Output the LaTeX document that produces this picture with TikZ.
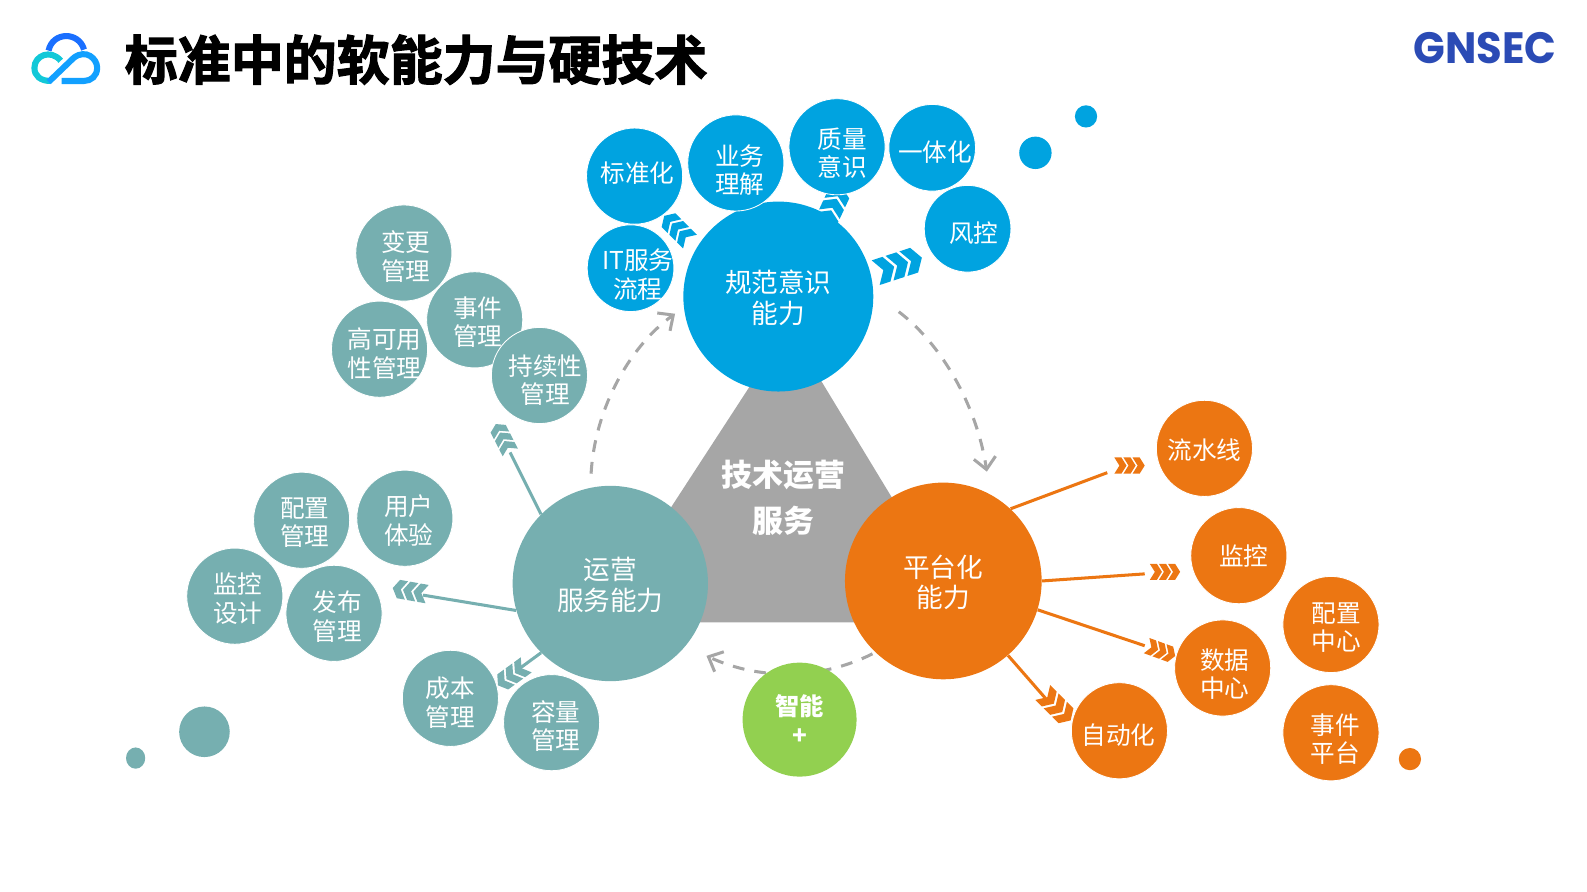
\documentclass[tikz,border=0pt]{standalone}
\usepackage{fontspec}
\setmainfont{Noto Sans CJK SC}
\newfontfamily\titlefont[FakeBold=2.2]{Noto Sans CJK SC Bold}
\newfontfamily\logofont{Poppins}
\usepackage{tikz}
\usetikzlibrary{arrows.meta,positioning,calc}
\definecolor{bluec}{HTML}{00A3E0}
\definecolor{tealc}{HTML}{76AFB0}
\definecolor{orangec}{HTML}{EC7612}
\definecolor{greenc}{HTML}{92D050}
\definecolor{grayc}{HTML}{A6A6A6}
\definecolor{logoc}{HTML}{2B4BB5}
\definecolor{cloudtop}{HTML}{1A6FFF}
\definecolor{cloudleft}{HTML}{12C8D8}
\definecolor{cloudright}{HTML}{12A0FF}
\tikzset{
	bub/.style={circle, draw=white, line width=0.5pt, inner sep=0pt, minimum size=57pt},
	bubsmall/.style={bub, minimum size=51.4pt},
	hub/.style={circle, inner sep=0pt},
	hubtext/.style={text=white, align=center, inner sep=0pt, yshift=-0.8pt,
		font=\fontsize{15.8}{18}\selectfont},
	bubtext/.style={text=white, align=center, inner sep=0pt, yshift=-0.2pt,
		font=\fontsize{14.6}{16.8}\selectfont},
	spoke/.style={line width=1.8pt},
	cycle line/.style={grayc, line width=1.8pt, dash pattern=on 7pt off 6pt,
		-{Straight Barb[length=7pt,width=13pt]}},
	chevrons/.pic={
		\foreach \i in {0,1,2}
			\fill[pic actions, shift={(\i*9-15,0)}] (0,-8) -- (7,-8) -- (12,0) -- (7,8) -- (0,8) -- (5,0) -- cycle;
	}
}
\begin{document}
\begin{tikzpicture}[x=0.6pt,y=-0.6pt]
	\useasboundingbox (0,0) rectangle (1568,881);

	% Logo
	\draw[cloudtop, line width=3.6pt] (48,50) .. controls (52,31) and (78,31) .. (83,49);
	\draw[cloudleft, line width=3.6pt] (60,60) .. controls (50,48) and (34,55) .. (34,67) .. controls (34,75) and (40,80) .. (50,80);
	\draw[cloudright, line width=3.6pt] (48,81) -- (73,57) .. controls (85,48) and (96,58) .. (96,67) .. controls (96,75) and (90,80) .. (83,80) -- (61,80);

	% Title
	\node[anchor=west, inner sep=0pt, font=\fontsize{31.4}{34}\titlefont] (title) at (123,59) {标准中的软能力与硬技术};
	\node[anchor=east, inner sep=0pt, text=logoc, font=\fontsize{26}{30}\logofont\bfseries] (gnsec) at (1538,47) {\scalebox{0.95}[1]{GNSEC}};

	% Centre triangle
	\fill[grayc] (779,323) -- (956,615) -- (589,615) -- cycle;

	% Cycle arrows
	\coordinate (opsout) at (584,468);
	\coordinate (normin) at (667,310);
	\coordinate (normout) at (888,308);
	\coordinate (platin) at (975,466);
	\coordinate (platout) at (862,646);
	\coordinate (opsin) at (698,648);
	\draw[cycle line] (opsout) .. controls (588,400) and (625,340) .. (normin);
	\draw[cycle line] (normout) .. controls (930,340) and (965,400) .. (platin);
	\draw[cycle line] (platout) .. controls (810,672) and (750,672) .. (opsin);

	% Blue chevrons sit under the circles
	\pic[fill=bluec, rotate=135, scale=1.2] at (669,226) {chevrons};
	\pic[fill=bluec, rotate=65, scale=1.4] at (823,204) {chevrons};
	\pic[fill=bluec, rotate=18, scale=1.6] at (888,262) {chevrons};

	% Hubs
	\node[hub, fill=bluec, minimum size=112.6pt, label={[hubtext]center:规范意识\\能力}] (normhub) at (769,293) {};
	\node[hub, fill=tealc, minimum size=115.8pt, label={[hubtext]center:运营\\服务能力}] (opshub) at (603,576.5) {};
	\node[hub, fill=orangec, minimum size=116.6pt, label={[hubtext]center:平台化\\能力}] (plathub) at (932,574) {};
	\node[hub, fill=greenc, minimum size=67.6pt, text=white, align=center, font=\fontsize{14.4}{17.5}\selectfont\bfseries] (aihub) at (790,711) {智能\\+};
	\node[text=white, align=center, inner sep=0pt, font=\fontsize{18.3}{27}\selectfont\bfseries] (core) at (774,492) {技术运营\\服务};

	% Blue group
	\foreach \nm/\x/\y/\dx/\dy/\txt in {
		std/627/174/3/-3/标准化,
		biz/727/161/4/7/业务\\理解,
		qual/827/145/5/6/质量\\意识}
		\node[bub, fill=bluec, label={[bubtext, shift={(\dx,\dy)}]center:\txt}] (\nm) at (\x,\y) {};
	\foreach \nm/\x/\y/\dx/\dy/\txt in {
		unify/921/146/3/4/一体化,
		risk/956/226/6/4/风控,
		itsm/623/265/7/6/IT服务\\流程}
		\node[bubsmall, fill=bluec, label={[bubtext, shift={(\dx,\dy)}]center:\txt}] (\nm) at (\x,\y) {};
	\fill[bluec] (1023,151) circle (16);
	\fill[bluec] (1073,115) circle (11);

	% Teal group
	\foreach \nm/\x/\y/\dx/\dy/\txt in {
		change/399/250/2/3/变更\\管理,
		avail/375/345/5/4/高可用\\性管理,
		incident/469/316/3/2/事件\\管理,
		contin/533/371/6/4/持续性\\管理,
		config/298/514/3/2/配置\\管理,
		userexp/400/512/4/2/用户\\体验,
		mondes/232/589/3/2/监控\\设计,
		release/330/606/3/3/发布\\管理,
		cost/445/690/0/4/成本\\管理,
		capac/545/714/4/3/容量\\管理}
		\node[bub, fill=tealc, label={[bubtext, shift={(\dx,\dy)}]center:\txt}] (\nm) at (\x,\y) {};
	\fill[tealc] (202,723) circle (25);
	\fill[tealc] (134,749) ellipse (9.5 and 10.5);

	% Orange group
	\foreach \nm/\x/\y/\dx/\dy/\txt in {
		pipe/1190/443/0/1/流水线,
		monitor/1224/549/5/0/监控,
		confc/1315/617/5/3/配置\\中心,
		datac/1208/660/2/6/数据\\中心,
		auto/1106/722/-1/4/自动化,
		evtp/1315/724/4/6/事件\\平台}
		\node[bub, fill=orangec, label={[bubtext, shift={(\dx,\dy)}]center:\txt}] (\nm) at (\x,\y) {};
	\fill[orangec] (1393,750) circle (11);

	% Spokes
	\coordinate (ot1) at (504,447);
	\coordinate (ot2) at (418,588);
	\coordinate (ot3) at (514,660);
	\coordinate (pt1) at (1094,467);
	\coordinate (pt2) at (1131,567);
	\coordinate (pt3) at (1131,638);
	\coordinate (pt4) at (1033,690);
	\draw[spoke, tealc] (opshub.135) -- (ot1);
	\draw[spoke, tealc] (opshub.196) -- (ot2);
	\draw[spoke, tealc] (opshub.225) -- (ot3);
	\draw[spoke, orangec] (plathub.47) -- (pt1);
	\draw[spoke, orangec] (plathub.0) -- (pt2);
	\draw[spoke, orangec] (plathub.-17) -- (pt3);
	\draw[spoke, orangec] (plathub.-49) -- (pt4);

	\pic[fill=tealc, rotate=117, scale=1.05] at (497,433) {chevrons};
	\pic[fill=tealc, rotate=170, scale=1.15] at (405,584) {chevrons};
	\pic[fill=tealc, rotate=-144, scale=1.15] at (506,667) {chevrons};
	\pic[fill=orangec] at (1116,460) {chevrons};
	\pic[fill=orangec] at (1151,565) {chevrons};
	\pic[fill=orangec, rotate=-20] at (1147,643) {chevrons};
	\pic[fill=orangec, rotate=-45, scale=1.3] at (1044,698) {chevrons};
\end{tikzpicture}
\end{document}
